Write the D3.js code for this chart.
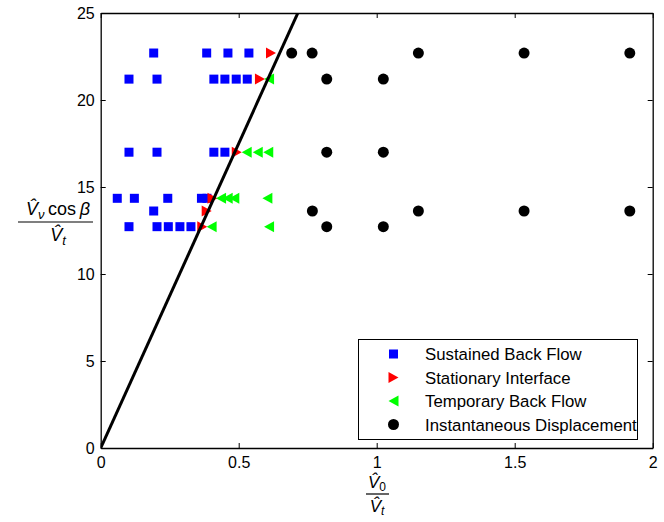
<!DOCTYPE html>
<html><head><meta charset="utf-8">
<script src="https://cdn.jsdelivr.net/npm/d3@7"></script>
<style>
body{margin:0;background:#fff;}
svg{display:block;}
text{font-family:"Liberation Sans",Arial,sans-serif;}
.math{font-family:"Liberation Serif","DejaVu Serif",serif;}
</style></head>
<body><svg id="c" width="664" height="522"></svg>
<script>
// ---- data ----
const seriesNames = ["Sustained Back Flow","Stationary Interface","Temporary Back Flow","Instantaneous Displacement"];
const xTicks = [0,0.5,1,1.5,2];
const yTicks = [0,5,10,15,20,25];
const sustainedX = [0.192,0.384,0.461,0.537, 0.1025,0.204,0.41,0.45,0.491,0.531, 0.1025,0.204,0.41,0.45, 0.060,0.122,0.243,0.365,0.385, 0.192, 0.1025,0.204,0.245,0.287,0.327];
const sustainedY = [22.7,22.7,22.7,22.7, 21.2,21.2,21.2,21.2,21.2,21.2, 17.0,17.0,17.0,17.0, 14.35,14.35,14.35,14.35,14.35, 13.62, 12.72,12.72,12.72,12.72,12.72];
const stationaryX = [0.617,0.577,0.493,0.405,0.384,0.368];
const stationaryY = [22.7,21.2,17.0,14.35,13.62,12.72];
const temporaryX = [0.61, 0.529,0.569,0.607, 0.436,0.460,0.484,0.604, 0.402,0.61];
const temporaryY = [21.2, 17.0,17.0,17.0, 14.35,14.35,14.35,14.35, 12.72,12.72];
const instantX = [0.692,0.766,1.151,1.534,1.917, 0.819,1.024, 0.819,1.024, 0.767,1.151,1.534,1.917, 0.819,1.024];
const instantY = [22.7,22.7,22.7,22.7,22.7, 21.2,21.2, 17.0,17.0, 13.62,13.62,13.62,13.62, 12.72,12.72];
const boundarySlope = 35;   // line y = 35 x
const lineX = [0, 2];

// ---- layout ----
const svg = d3.select("#c");
const L=100.7, R=652.7, T=13, B=448;
const x = d3.scaleLinear().domain([0,2]).range([L,R]);
const y = d3.scaleLinear().domain([0,25]).range([B,T]);

svg.append("defs").append("clipPath").attr("id","clip")
  .append("rect").attr("x",L).attr("y",T).attr("width",R-L).attr("height",B-T);

function styleAxis(g){
  g.selectAll("path.domain").attr("stroke","#000").attr("stroke-width",1.3);
  g.selectAll(".tick line").attr("stroke","#000").attr("stroke-width",1);
  g.selectAll(".tick text").attr("font-size",16).attr("fill","#000")
    .style("font-family","'Liberation Sans',Arial,sans-serif");
}
const fmt = d3.format("~g");
svg.append("g").attr("transform",`translate(0,${B})`)
  .call(d3.axisBottom(x).tickValues(xTicks).tickFormat(fmt).tickSizeInner(-5).tickSizeOuter(0).tickPadding(9)).call(styleAxis);
svg.append("g").attr("transform",`translate(0,${T})`)
  .call(d3.axisTop(x).tickValues(xTicks).tickFormat("").tickSizeInner(-5).tickSizeOuter(0)).call(styleAxis);
svg.append("g").attr("transform",`translate(${L},0)`)
  .call(d3.axisLeft(y).tickValues(yTicks).tickFormat(fmt).tickSizeInner(-5).tickSizeOuter(0).tickPadding(6)).call(styleAxis);
svg.append("g").attr("transform",`translate(${R},0)`)
  .call(d3.axisRight(y).tickValues(yTicks).tickFormat("").tickSizeInner(-5).tickSizeOuter(0)).call(styleAxis);

// ---- markers ----
const plot = svg.append("g").attr("clip-path","url(#clip)");
const zip = (xs,ys)=>xs.map((v,i)=>[v,ys[i]]);
const sq = 9;
function rightTri(w,h){return `M${-w/2},${-h/2}L${w/2},0L${-w/2},${h/2}Z`;}
function leftTri(w,h){return `M${w/2},${-h/2}L${-w/2},0L${w/2},${h/2}Z`;}

function drawSquare(g,cx,cy){g.append("rect").attr("x",cx-sq/2).attr("y",cy-sq/2).attr("width",sq).attr("height",sq).attr("fill","#0000ff");}
function drawRight(g,cx,cy){g.append("path").attr("d",rightTri(10,11)).attr("transform",`translate(${cx},${cy})`).attr("fill","#ff0000");}
function drawLeft(g,cx,cy){g.append("path").attr("d",leftTri(10,11)).attr("transform",`translate(${cx},${cy})`).attr("fill","#00ff00");}
function drawCircle(g,cx,cy){g.append("circle").attr("cx",cx).attr("cy",cy).attr("r",5.5).attr("fill","#000");}

zip(sustainedX,sustainedY).forEach(d=>drawSquare(plot,x(d[0]),y(d[1])));
zip(stationaryX,stationaryY).forEach(d=>drawRight(plot,x(d[0]),y(d[1])));
zip(temporaryX,temporaryY).forEach(d=>drawLeft(plot,x(d[0]),y(d[1])));
zip(instantX,instantY).forEach(d=>drawCircle(plot,x(d[0]),y(d[1])));

plot.append("path")
  .attr("d", d3.line().x(d=>x(d)).y(d=>y(boundarySlope*d))(lineX))
  .attr("stroke","#000").attr("stroke-width",3).attr("fill","none");

// ---- legend ----
const lg = svg.append("g");
lg.append("rect").attr("x",358.5).attr("y",339.5).attr("width",279).attr("height",100)
  .attr("fill","#fff").attr("stroke","#000").attr("stroke-width",1);
const drawers=[drawSquare,drawRight,drawLeft,drawCircle];
const rowY=[354,377.5,401,424.5];
seriesNames.forEach((n,i)=>{
  drawers[i](lg,393.5,rowY[i]);
  lg.append("text").attr("x",425).attr("y",rowY[i]+6).attr("font-size",16.8).attr("fill","#000").text(n);
});

// ---- axis labels (fractions) ----
const yl = svg.append("g").attr("class","math");
const num = yl.append("text").attr("x",58).attr("y",215).attr("text-anchor","middle").attr("font-size",18);
num.append("tspan").attr("font-style","italic").text("V\u0302");
num.append("tspan").attr("font-style","italic").attr("font-size",13).attr("dy",4).text("\u03BD");
num.append("tspan").attr("dy",-4).text("\u2009cos\u2009");
num.append("tspan").attr("font-style","italic").text("\u03B2");
yl.append("line").attr("x1",18).attr("x2",93).attr("y1",222).attr("y2",222).attr("stroke","#000").attr("stroke-width",1.2);
const den = yl.append("text").attr("x",58).attr("y",241).attr("text-anchor","middle").attr("font-size",18);
den.append("tspan").attr("font-style","italic").text("V\u0302");
den.append("tspan").attr("font-style","italic").attr("font-size",13).attr("dy",4).text("t");

const xl = svg.append("g").attr("class","math");
const xn = xl.append("text").attr("x",377).attr("y",488).attr("text-anchor","middle").attr("font-size",17);
xn.append("tspan").attr("font-style","italic").text("V\u0302");
xn.append("tspan").attr("font-size",12).attr("dy",3).text("0");
xl.append("line").attr("x1",366).attr("x2",389).attr("y1",494).attr("y2",494).attr("stroke","#000").attr("stroke-width",1.2);
const xd = xl.append("text").attr("x",377).attr("y",512).attr("text-anchor","middle").attr("font-size",17);
xd.append("tspan").attr("font-style","italic").text("V\u0302");
xd.append("tspan").attr("font-style","italic").attr("font-size",12).attr("dy",3).text("t");
</script></body></html>
